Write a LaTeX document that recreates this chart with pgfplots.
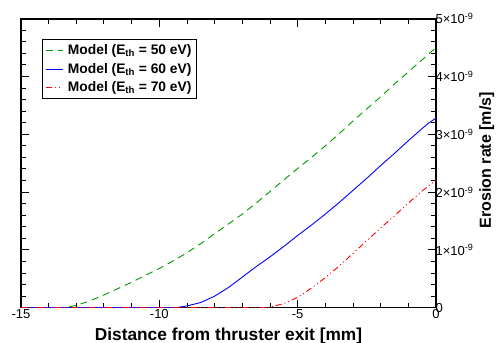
\documentclass[border=0pt]{standalone}
\usepackage{fontspec}
\setmainfont{Liberation Sans}
\usepackage{pgfplots}
\pgfplotsset{compat=1.18}
\definecolor{mgreen}{RGB}{0,150,0}
\begin{document}
\begin{tikzpicture}
\begin{axis}[
  at={(0pt,0pt)}, anchor=south west,
  width=415pt, height=289pt, scale only axis,
  xmin=-15, xmax=0, ymin=0, ymax=5e-9,
  xtick={-15,-10,-5,0}, xticklabels={-15,-10,-5,0},
  minor xtick={-14,-13,-12,-11,-9,-8,-7,-6,-4,-3,-2,-1},
  ytick={0,1e-9,2e-9,3e-9,4e-9,5e-9},
  yticklabels={0,1\texttimes10\textsuperscript{-9},2\texttimes10\textsuperscript{-9},3\texttimes10\textsuperscript{-9},4\texttimes10\textsuperscript{-9},5\texttimes10\textsuperscript{-9}},
  minor ytick={0.2e-9,0.4e-9,0.6e-9,0.8e-9,1.2e-9,1.4e-9,1.6e-9,1.8e-9,2.2e-9,2.4e-9,2.6e-9,2.8e-9,3.2e-9,3.4e-9,3.6e-9,3.8e-9,4.2e-9,4.4e-9,4.6e-9,4.8e-9},
  scaled y ticks=false,
  yticklabel pos=right,
  ylabel near ticks,
  tick align=inside,
  major tick length=8pt, minor tick length=5pt,
  every tick/.style={black, line width=1pt},
  axis line style={line width=1.6pt},
  tick label style={font=\fontsize{13}{13}\selectfont},
  xticklabel style={yshift=2pt},
  yticklabel style={xshift=-4pt},
  xlabel={\bfseries Distance from thruster exit [mm]},
  ylabel={\bfseries Erosion rate [m/s]},
  xlabel style={font=\fontsize{17.3}{17.3}\selectfont\bfseries, yshift=-3pt},
  ylabel style={font=\fontsize{16}{16}\selectfont\bfseries, xshift=3pt, yshift=1pt},
  legend style={at={(rel axis cs:0.0496,0.929)}, anchor=north west, draw=black, line width=1pt,
    font=\fontsize{13.8}{15}\selectfont\bfseries, row sep=3pt, column sep=3pt, inner xsep=3pt, inner ysep=3pt},
  legend cell align=left,
  legend image code/.code={\draw[#1, line width=0.9pt] (0pt,0pt) -- (17pt,0pt);},
]
\addplot[mgreen, line width=0.9pt, dash pattern=on 7pt off 5pt] coordinates {
(-15,0) (-13.4,0) (-13,0.04e-9) (-12.5,0.12e-9) (-12,0.22e-9) (-11.5,0.33e-9) (-11,0.44e-9)
(-10.5,0.56e-9) (-10,0.68e-9) (-9.5,0.81e-9) (-9,0.95e-9) (-8.5,1.11e-9) (-8,1.28e-9)
(-7.5,1.45e-9) (-7,1.62e-9) (-6.5,1.81e-9) (-6,2.01e-9) (-5.5,2.21e-9) (-5,2.41e-9)
(-4.5,2.60e-9) (-4,2.80e-9) (-3.5,3.01e-9) (-3,3.23e-9) (-2.5,3.44e-9) (-2,3.65e-9)
(-1.5,3.87e-9) (-1,4.08e-9) (-0.5,4.29e-9) (0,4.50e-9)};
\addlegendentry{Model (E\textsubscript{th} = 50 eV)}
\addplot[blue, line width=0.9pt] coordinates {
(-15,0) (-9.4,0) (-9,0.03e-9) (-8.5,0.09e-9) (-8,0.20e-9) (-7.5,0.35e-9) (-7,0.53e-9)
(-6.5,0.71e-9) (-6,0.88e-9) (-5.5,1.06e-9) (-5,1.25e-9) (-4.5,1.43e-9) (-4,1.62e-9)
(-3.5,1.82e-9) (-3,2.03e-9) (-2.5,2.24e-9) (-2,2.46e-9) (-1.5,2.67e-9) (-1,2.89e-9)
(-0.5,3.10e-9) (-0.25,3.20e-9) (0,3.28e-9)};
\addlegendentry{Model (E\textsubscript{th} = 60 eV)}
\addplot[red, line width=0.9pt, dash pattern=on 6pt off 3pt on 1pt off 3pt on 1pt off 3pt] coordinates {
(-15,0) (-6.1,0) (-5.5,0.07e-9) (-5,0.18e-9) (-4.5,0.34e-9) (-4,0.52e-9) (-3.5,0.72e-9)
(-3,0.94e-9) (-2.5,1.16e-9) (-2,1.38e-9) (-1.5,1.59e-9) (-1,1.81e-9) (-0.5,2.02e-9) (0,2.21e-9)};
\addlegendentry{Model (E\textsubscript{th} = 70 eV)}
\end{axis}
\pgfresetboundingbox
\path[use as bounding box] (-21pt,-35.3pt) rectangle (475pt,307.7pt);
\end{tikzpicture}
\end{document}
